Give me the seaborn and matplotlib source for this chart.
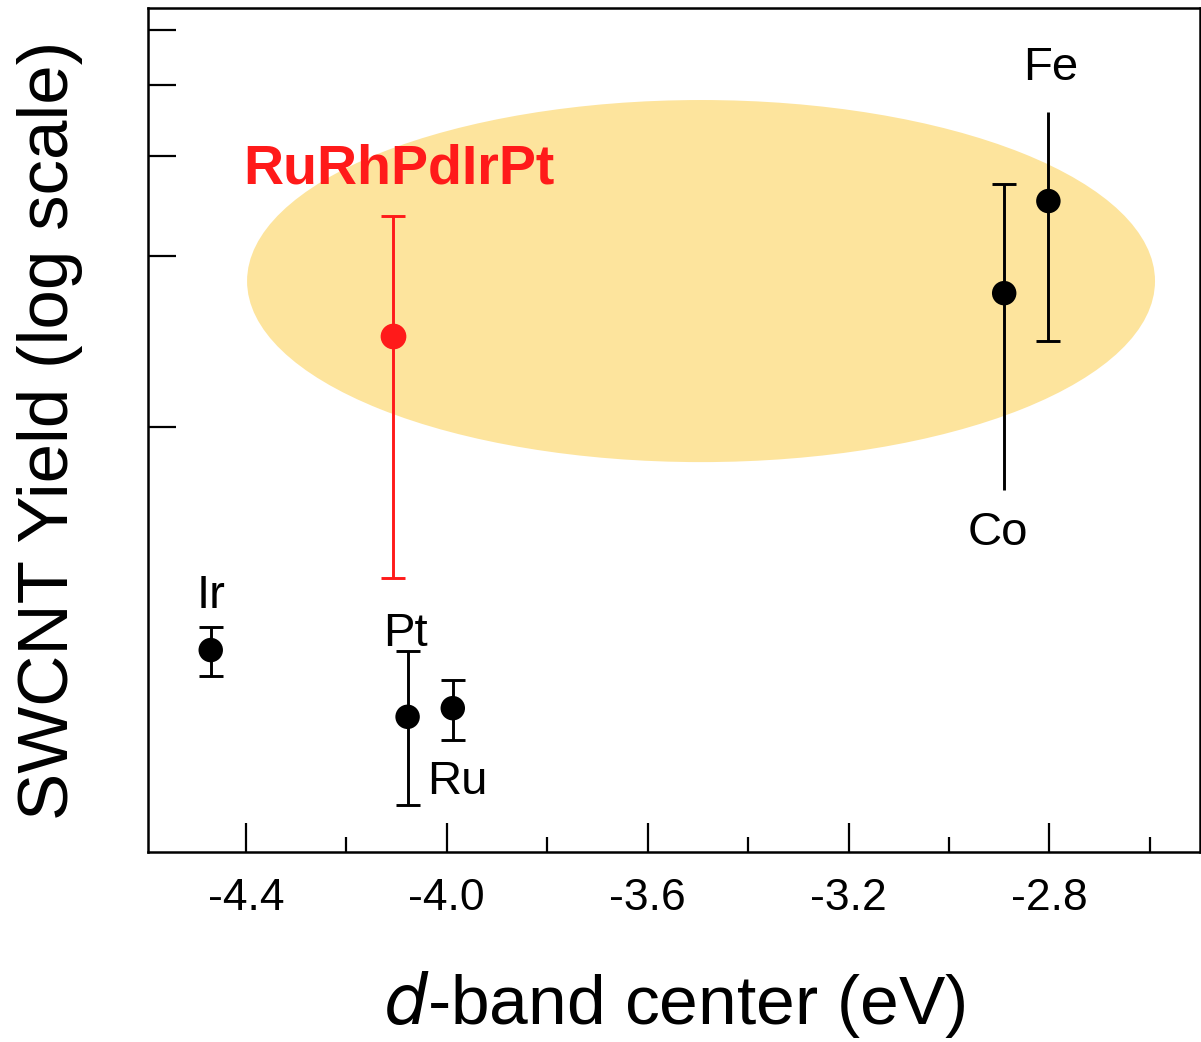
import matplotlib
matplotlib.use("Agg")
import matplotlib.pyplot as plt
from matplotlib.patches import Ellipse
import numpy as np
import pandas as pd
import seaborn as sns

# Data
metals = ["Ir", "Pt", "Ru", "Co", "Fe"]
d_band = [-4.470, -4.078, -3.988, -2.890, -2.802]
yield_mid = [0.405, 0.309, 0.320, 1.721, 2.500]
yield_low = [0.365, 0.216, 0.281, 0.774, 1.417]
yield_high = [0.444, 0.403, 0.3585, 2.678, 3.585]
cap_low = [True, True, True, False, True]
cap_high = [True, True, True, True, False]

hea_name = "RuRhPdIrPt"
hea_d_band = -4.107
hea_mid = 1.446
hea_low = 0.542
hea_high = 2.352

label_x = [-4.470, -4.082, -3.978, -2.903, -2.798]
label_y = [0.505, 0.433, 0.237, 0.652, 4.28]
hea_label_xy = (-4.0955, 2.84)

x_major = [-4.4, -4.0, -3.6, -3.2, -2.8]
x_minor = [-4.2, -3.8, -3.4, -3.0, -2.6]
y_ticks = [1, 2, 3, 4, 5]

df = pd.DataFrame({"metal": metals, "d": d_band, "y": yield_mid,
                   "lo": yield_low, "hi": yield_high})

sns.set_theme(style="ticks")
plt.rcParams["font.family"] = ["Liberation Sans", "DejaVu Sans"]
plt.rcParams["axes.unicode_minus"] = False
plt.rcParams["text.color"] = "black"
plt.rcParams["axes.labelcolor"] = "black"
plt.rcParams["xtick.color"] = "black"
plt.rcParams["ytick.color"] = "black"

fig = plt.figure(figsize=(12.01, 10.42), dpi=100)
ax = fig.add_axes([0.1232, 0.1823, 0.8760, 0.8100])
ax.set_yscale("log")
ax.set_xlim(-4.595, -2.50)
ax.set_ylim(0.1786, 5.467)

# highlighted region
ax.add_patch(Ellipse((0.5257, 0.6765), 0.863, 0.429, transform=ax.transAxes,
                     facecolor="#fde49d", edgecolor="none", zorder=0))

# element error bars (caps drawn separately, some bars have one cap only)
ax.vlines(df["d"], df["lo"], df["hi"], color="black", lw=2.1, zorder=2)
for xi, lo, hi, cl, ch in zip(d_band, yield_low, yield_high, cap_low, cap_high):
    if cl:
        ax.plot(xi, lo, marker="_", ms=17, mew=2.1, color="black", zorder=2)
    if ch:
        ax.plot(xi, hi, marker="_", ms=17, mew=2.1, color="black", zorder=2)
sns.scatterplot(data=df, x="d", y="y", ax=ax, color="black", s=310,
                edgecolor="none", zorder=3, legend=False)

# high-entropy alloy point
ax.errorbar([hea_d_band], [hea_mid],
            yerr=[[hea_mid - hea_low], [hea_high - hea_mid]],
            fmt="o", color="#ff1a1a", ms=17.5, elinewidth=2.1,
            capsize=8.5, capthick=2.1, zorder=3)

for name, tx, ty in zip(metals, label_x, label_y):
    ax.text(tx, ty, name, ha="center", va="center", fontsize=34, color="black")
ax.text(hea_label_xy[0], hea_label_xy[1], hea_name, ha="center", va="center",
        fontsize=40, fontweight="bold", color="#ff1a1a")

ax.set_xticks(x_major)
ax.set_xticklabels([f"{v:.1f}" for v in x_major], fontsize=32)
ax.set_xticks(x_minor, minor=True)
ax.set_yticks(y_ticks)
ax.set_yticklabels([])
ax.yaxis.set_minor_locator(matplotlib.ticker.NullLocator())
ax.tick_params(axis="x", which="major", direction="in", length=21, width=1.6, pad=19)
ax.tick_params(axis="x", which="minor", direction="in", length=11, width=1.6)
ax.tick_params(axis="y", which="major", direction="in", length=20, width=1.6)
for sp in ax.spines.values():
    sp.set_visible(True)
    sp.set_linewidth(1.8)
    sp.set_color("black")

ax.set_xlabel("$\\it{d}$-band center (eV)", fontsize=50, labelpad=36)
ax.set_ylabel("SWCNT Yield (log scale)", fontsize=51, labelpad=43)

fig.savefig("out.png", dpi=100)
